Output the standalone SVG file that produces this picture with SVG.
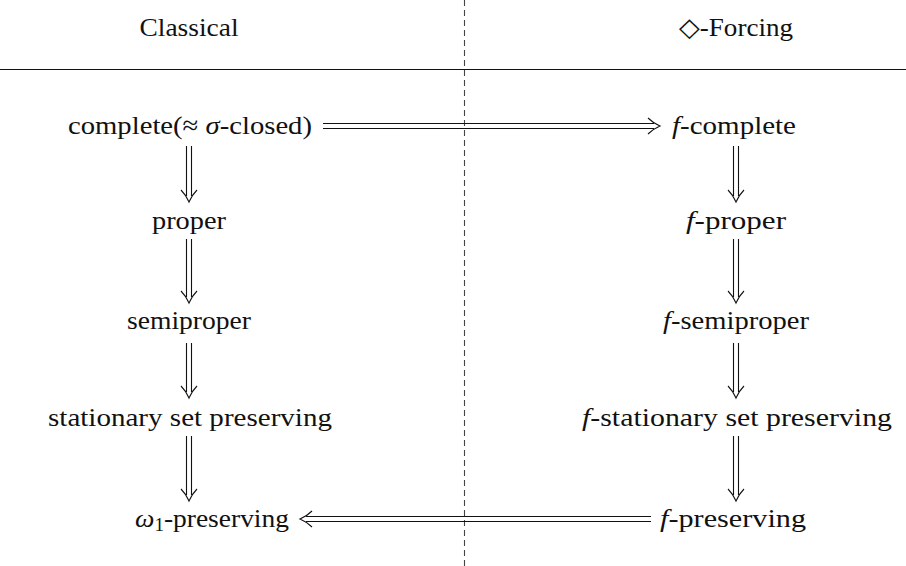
<svg xmlns="http://www.w3.org/2000/svg" width="906" height="566" viewBox="0 0 906 566" font-family="'Liberation Serif', 'Times New Roman', 'DejaVu Serif', serif">
<style>
text{font-family:'Liberation Serif','Times New Roman','DejaVu Serif',serif;font-size:26px;fill:#111;text-anchor:middle}
.i{font-style:italic}
.ln{stroke:#111;stroke-width:1.1;fill:none}
.hd{stroke:#111;stroke-width:1.1;fill:none}
</style>
<rect width="906" height="566" fill="#fff"/>
<g id="frame">
<line x1="464.5" y1="0" x2="464.5" y2="566" stroke="#444" stroke-width="1.1" stroke-dasharray="6,4"/>
<line x1="0" y1="69.5" x2="906" y2="69.5" stroke="#111" stroke-width="1"/>
</g>
<g id="hdr-classical"><text x="189" y="36" textLength="99" lengthAdjust="spacingAndGlyphs">Classical</text></g>
<g id="hdr-forcing"><text x="736" y="36" textLength="114" lengthAdjust="spacingAndGlyphs">◇-Forcing</text></g>
<g id="n-complete"><text x="190" y="134" textLength="244" lengthAdjust="spacingAndGlyphs">complete(≈ <tspan class="i">σ</tspan>-closed)</text></g>
<g id="n-proper"><text x="189" y="229" textLength="74" lengthAdjust="spacingAndGlyphs">proper</text></g>
<g id="n-semiproper"><text x="189" y="329" textLength="124" lengthAdjust="spacingAndGlyphs">semiproper</text></g>
<g id="n-ssp"><text x="190" y="426" textLength="284" lengthAdjust="spacingAndGlyphs">stationary set preserving</text></g>
<g id="n-omega"><text x="212" y="527" textLength="154" lengthAdjust="spacingAndGlyphs"><tspan class="i">ω</tspan><tspan font-size="18" dy="4">1</tspan><tspan dy="-4">-preserving</tspan></text></g>
<g id="n-fcomplete"><text x="734" y="134" textLength="124" lengthAdjust="spacingAndGlyphs"><tspan class="i">f</tspan>-complete</text></g>
<g id="n-fproper"><text x="736" y="229" textLength="100" lengthAdjust="spacingAndGlyphs"><tspan class="i">f</tspan>-proper</text></g>
<g id="n-fsemiproper"><text x="736" y="329" textLength="146" lengthAdjust="spacingAndGlyphs"><tspan class="i">f</tspan>-semiproper</text></g>
<g id="n-fssp"><text x="737" y="426" textLength="310" lengthAdjust="spacingAndGlyphs"><tspan class="i">f</tspan>-stationary set preserving</text></g>
<g id="n-fpres"><text x="733" y="527" textLength="146" lengthAdjust="spacingAndGlyphs"><tspan class="i">f</tspan>-preserving</text></g>
<g id="connectors">
<path class="ln" d="M186.5 146V196M191.5 146V196"/><path class="hd" d="M181 190Q186 195 189 202Q192 195 197 190"/>
<path class="ln" d="M186.5 239V297M191.5 239V297"/><path class="hd" d="M181 291Q186 296 189 303Q192 296 197 291"/>
<path class="ln" d="M186.5 343V392M191.5 343V392"/><path class="hd" d="M181 386Q186 391 189 398Q192 391 197 386"/>
<path class="ln" d="M186.5 436V495M191.5 436V495"/><path class="hd" d="M181 489Q186 494 189 501Q192 494 197 489"/>
<path class="ln" d="M733.5 146V196M738.5 146V196"/><path class="hd" d="M728 190Q733 195 736 202Q739 195 744 190"/>
<path class="ln" d="M733.5 239V297M738.5 239V297"/><path class="hd" d="M728 291Q733 296 736 303Q739 296 744 291"/>
<path class="ln" d="M733.5 343V392M738.5 343V392"/><path class="hd" d="M728 386Q733 391 736 398Q739 391 744 386"/>
<path class="ln" d="M733.5 436V495M738.5 436V495"/><path class="hd" d="M728 489Q733 494 736 501Q739 494 744 489"/>
<path class="ln" d="M323 123.5H654M323 128.5H654"/><path class="hd" d="M648 118Q653 123 660 126Q653 129 648 134"/>
<path class="ln" d="M651 516.5H306M651 521.5H306"/><path class="hd" d="M312 511Q307 516 300 519Q307 522 312 527"/>
</g>
</svg>
